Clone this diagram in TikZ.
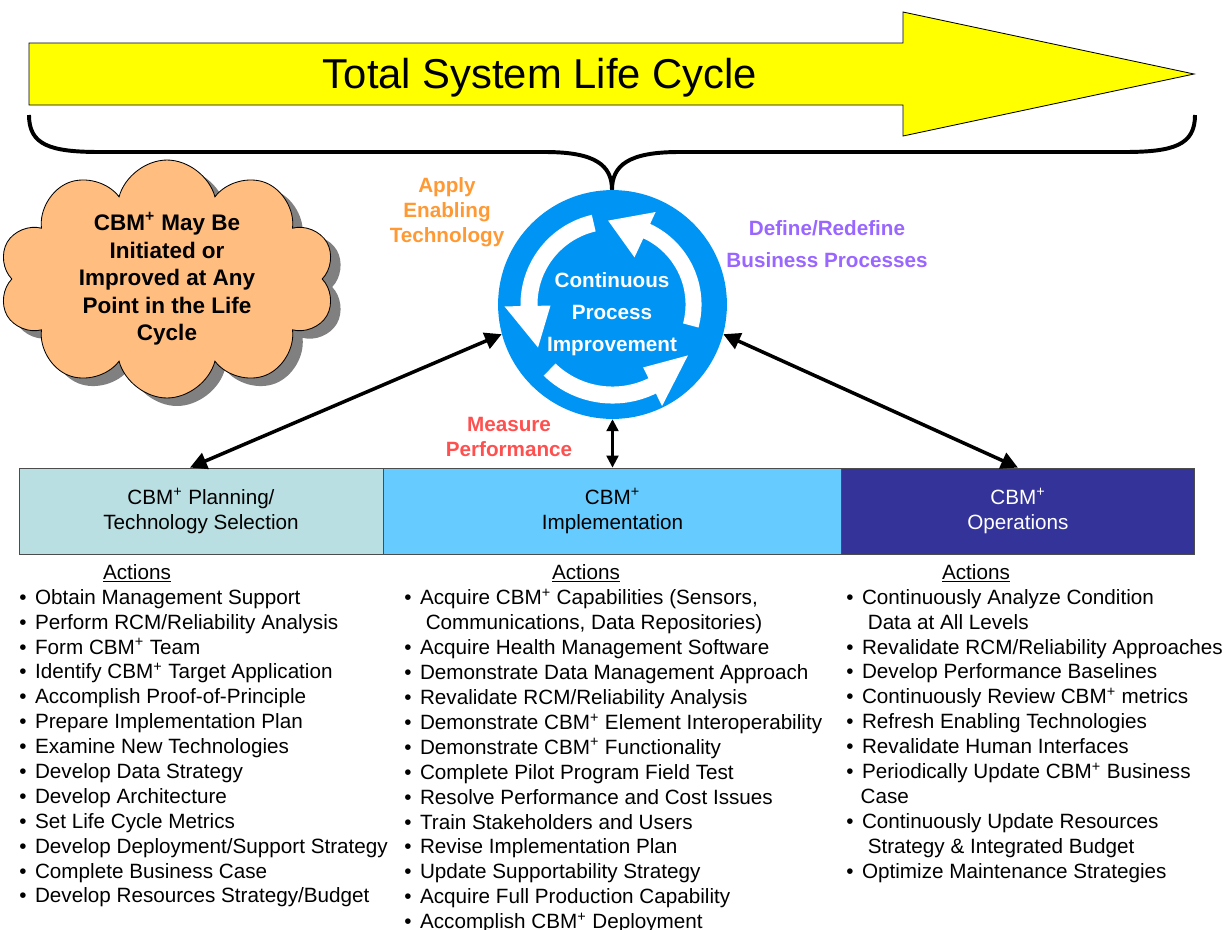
\documentclass[tikz,border=0pt]{standalone}
\usepackage{fontspec}
\setmainfont{Liberation Sans}
\usetikzlibrary{positioning,arrows.meta,shapes.symbols,shadows}

\definecolor{lifeyellow}{RGB}{255,255,0}
\definecolor{cpiblue}{RGB}{0,148,245}
\definecolor{cloudorange}{RGB}{255,190,128}
\definecolor{planteal}{RGB}{185,223,227}
\definecolor{implblue}{RGB}{102,204,255}
\definecolor{opsnavy}{RGB}{51,51,153}
\definecolor{applyorange}{RGB}{255,153,51}
\definecolor{definepurple}{RGB}{153,102,255}
\definecolor{measurered}{RGB}{255,80,80}

\newcommand{\cbm}{CBM\textsuperscript{+}}
\newcommand{\actitem}[1]{\textbullet\ \hspace{2pt}#1}

\tikzset{
  phasebox/.style={draw=black!70, line width=0.6pt, minimum height=2.15cm, align=center, inner sep=0pt, font=\fontsize{14.7}{17.7}\selectfont},
  actionlist/.style={anchor=north west, align=left, inner sep=0pt, font=\fontsize{14.7}{17.7}\selectfont},
  actionhead/.style={anchor=base, inner sep=0pt, font=\fontsize{14.7}{17.7}\selectfont},
  steplabel/.style={align=center, inner sep=0pt, font=\bfseries\fontsize{14.7}{17.7}\selectfont},
  linkarrow/.style={{Triangle[length=0.42cm,width=0.42cm]}-{Triangle[length=0.42cm,width=0.42cm]}, line width=2.5pt},
}

\begin{document}
\begin{tikzpicture}[x=0.025cm, y=0.025cm]
\useasboundingbox (0,0) rectangle (1228,-929);

% life cycle arrow and brace
\draw[fill=lifeyellow, line width=0.6pt] (29,-43) -- (903,-43) -- (903,-12) -- (1194,-74) -- (903,-136) -- (903,-105) -- (29,-105) -- cycle;
\node[font=\fontsize{29.7}{35}\selectfont, inner sep=0pt] (life) at (540,-78) {Total System Life Cycle};
\draw[line width=2.8pt] (29,-115) .. controls (29,-145) and (50,-152) .. (100,-152) -- (545,-152)
  .. controls (595,-152) and (612,-165) .. (612,-190)
  .. controls (612,-165) and (629,-152) .. (679,-152) -- (1124,-152)
  .. controls (1174,-152) and (1195,-145) .. (1195,-115);

% improvement circle
\node[circle, fill=cpiblue, minimum size=5.72cm, inner sep=0pt] (cpi) at (612.5,-304.5) {};
\begin{scope}[shift={(cpi.center)}]
% start/end of band, tip angle, band radii, head radii, tip radius
\foreach \a/\b/\t/\ri/\ro/\hi/\ho/\tr in {-15/65/93/1.825/2.225/1.3/2.55/2.1,
    103/181/210/1.875/2.3/1.55/2.7/2.15,
    226/296/326/2.05/2.475/1.75/2.825/2.275}{
  \fill[white] ({\a}:\ro cm) arc[start angle=\a, end angle=\b, radius=\ro cm]
    -- ({\b}:\ho cm) -- ({\t}:\tr cm) -- ({\b}:\hi cm) -- ({\b}:\ri cm)
    arc[start angle=\b, end angle=\a, radius=\ri cm] -- cycle;
}
\end{scope}
\node[steplabel, text=white, font=\bfseries\fontsize{14.7}{22.8}\selectfont] (cpitxt) at (612,-314) {Continuous\\Process\\Improvement};

% labels round the circle
\node[steplabel, text=applyorange] (apply) at (447,-212) {Apply\\Enabling\\Technology};
\node[steplabel, text=definepurple, font=\bfseries\fontsize{14.7}{22.8}\selectfont] (define) at (827,-244) {Define/Redefine\\Business Processes};
\node[steplabel, text=measurered] (measure) at (509,-437) {Measure\\Performance};

% cloud
\node[cloud, cloud puffs=10, cloud ignores aspect, minimum width=8.4cm, minimum height=4.8cm, inner sep=0pt,
  fill=cloudorange, draw=black, line width=0.6pt,
  drop shadow={shadow xshift=0.25cm, shadow yshift=-0.2cm, fill=black!50, opacity=1},
  align=center, font=\bfseries\fontsize{16}{19.6}\selectfont] (anypoint) at (167,-279)
  {\cbm{} May Be\\Initiated or\\Improved at Any\\Point in the Life\\Cycle};

% phases
\node[phasebox, fill=planteal, minimum width=9.1cm] (plan) at (201,-511) {\cbm{} Planning/\\Technology Selection};
\node[phasebox, fill=implblue, minimum width=11.425cm, right=0pt of plan] (impl) {\cbm\\Implementation};
\node[phasebox, fill=opsnavy, text=white, minimum width=8.8cm, right=0pt of impl] (ops) {\cbm\\Operations};

\draw[linkarrow] ([xshift=-0.275cm]plan.north) -- (cpi.195);
\draw[linkarrow] (cpi.-15) -- (ops.north);
\draw[{Triangle[length=0.3cm,width=0.3cm]}-{Triangle[length=0.3cm,width=0.3cm]}, line width=1.6pt] (cpi.south) -- (cpi.south |- impl.north);

% actions
\node[actionhead] (plana) at (137,-579) {\underline{Actions}};
\node[actionlist] (planl) at (19,-589) {\actitem{Obtain Management Support}\\
\actitem{Perform RCM/Reliability Analysis}\\
\actitem{Form \cbm{} Team}\\
\actitem{Identify \cbm{} Target Application}\\
\actitem{Accomplish Proof-of-Principle}\\
\actitem{Prepare Implementation Plan}\\
\actitem{Examine New Technologies}\\
\actitem{Develop Data Strategy}\\
\actitem{Develop Architecture}\\
\actitem{Set Life Cycle Metrics}\\
\actitem{Develop Deployment/Support Strategy}\\
\actitem{Complete Business Case}\\
\actitem{Develop Resources Strategy/Budget}};

\node[actionhead] (impla) at (586,-579) {\underline{Actions}};
\node[actionlist] (impll) at (404,-589) {\actitem{Acquire \cbm{} Capabilities (Sensors,}\\
\hphantom{\textbullet}\ \ \hspace{2pt}Communications, Data Repositories)\\
\actitem{Acquire Health Management Software}\\
\actitem{Demonstrate Data Management Approach}\\
\actitem{Revalidate RCM/Reliability Analysis}\\
\actitem{Demonstrate \cbm{} Element Interoperability}\\
\actitem{Demonstrate \cbm{} Functionality}\\
\actitem{Complete Pilot Program Field Test}\\
\actitem{Resolve Performance and Cost Issues}\\
\actitem{Train Stakeholders and Users}\\
\actitem{Revise Implementation Plan}\\
\actitem{Update Supportability Strategy}\\
\actitem{Acquire Full Production Capability}\\
\actitem{Accomplish \cbm{} Deployment}};

\node[actionhead] (opsa) at (976,-579) {\underline{Actions}};
\node[actionlist] (opsl) at (846,-589) {\actitem{Continuously Analyze Condition}\\
\hphantom{\textbullet}\ \ \hspace{2pt}Data at All Levels\\
\actitem{Revalidate RCM/Reliability Approaches}\\
\actitem{Develop Performance Baselines}\\
\actitem{Continuously Review \cbm{} metrics}\\
\actitem{Refresh Enabling Technologies}\\
\actitem{Revalidate Human Interfaces}\\
\actitem{Periodically Update \cbm{} Business}\\
\hphantom{\textbullet}\ \hspace{1pt}Case\\
\actitem{Continuously Update Resources}\\
\hphantom{\textbullet}\ \ \hspace{2pt}Strategy \& Integrated Budget\\
\actitem{Optimize Maintenance Strategies}};
\end{tikzpicture}
\end{document}
